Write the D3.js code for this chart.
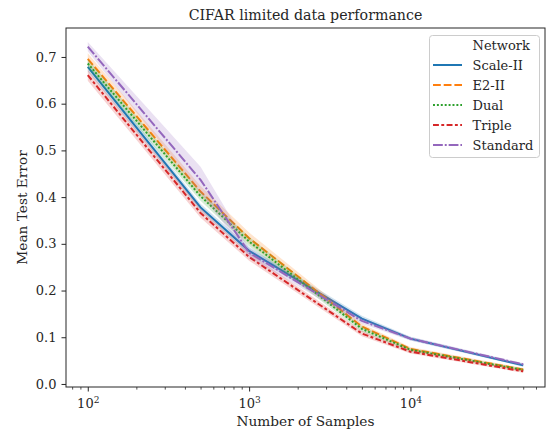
<!DOCTYPE html>
<html lang="en">
<head>
    <meta charset="UTF-8">
    <title>CIFAR limited data performance</title>
    <style>
        body { margin: 0; background: #fff; }
        text { font-family: "DejaVu Serif", serif; }
    </style>
</head>
<body>
<script src="https://d3js.org/d3.v7.min.js"></script>
<script>
    // sample sizes (x) and mean test error per network
    const samples = [100, 500, 1000, 5000, 10000, 50000];
    const networks = ["Scale-II", "E2-II", "Dual", "Triple", "Standard"];
    const scaleII  = [0.679, 0.378, 0.285, 0.140, 0.097, 0.040];
    const e2II     = [0.696, 0.412, 0.312, 0.123, 0.075, 0.031];
    const dual     = [0.686, 0.402, 0.305, 0.118, 0.073, 0.030];
    const triple   = [0.661, 0.366, 0.272, 0.108, 0.069, 0.027];
    const standard = [0.722, 0.437, 0.281, 0.135, 0.097, 0.042];
    // half width of the confidence band
    const ciScaleII  = [0.010, 0.008, 0.008, 0.006, 0.004, 0.003];
    const ciE2II     = [0.012, 0.012, 0.012, 0.006, 0.004, 0.003];
    const ciDual     = [0.010, 0.010, 0.010, 0.006, 0.004, 0.003];
    const ciTriple   = [0.012, 0.010, 0.008, 0.006, 0.004, 0.003];
    const ciStandard = [0.010, 0.028, 0.010, 0.006, 0.004, 0.003];
    const yTicks = [0.0, 0.1, 0.2, 0.3, 0.4, 0.5, 0.6, 0.7];
    const xTicks = [100, 1000, 10000];

    const series = [
        {name: networks[0], values: scaleII, ci: ciScaleII, color: "#1f77b4", dash: null},
        {name: networks[1], values: e2II, ci: ciE2II, color: "#ff7f0e", dash: "7.8,2.9"},
        {name: networks[2], values: dual, ci: ciDual, color: "#2ca02c", dash: "1.95,1.95"},
        {name: networks[3], values: triple, ci: ciTriple, color: "#d62728", dash: "5.9,2.4,2.9,2.4"},
        {name: networks[4], values: standard, ci: ciStandard, color: "#9467bd", dash: "9.8,1.95,1.95,1.95"}
    ];

    const width = 546, height = 432;
    const mLeft = 66, mTop = 28, mRight = 545, mBottom = 387;
    const fs = 13.0;      // tick and legend text
    const fsLabel = 13.7; // axis labels
    const lw = 2;

    const svg = d3.select("body").append("svg")
        .attr("width", width)
        .attr("height", height);

    const x = d3.scaleLog()
        .domain([Math.pow(10, 1.865), Math.pow(10, 4.834)])
        .range([mLeft, mRight]);
    const y = d3.scaleLinear()
        .domain([-0.0065, 0.762])
        .range([mBottom, mTop]);

    // bands and lines
    const plot = svg.append("g");
    series.forEach(s => {
        const pts = samples.map((n, i) => ({n: n, v: s.values[i], c: s.ci[i]}));
        plot.append("path")
            .datum(pts)
            .attr("fill", s.color)
            .attr("fill-opacity", 0.2)
            .attr("d", d3.area()
                .x(d => x(d.n))
                .y0(d => y(d.v - d.c))
                .y1(d => y(d.v + d.c)));
        plot.append("path")
            .datum(pts)
            .attr("fill", "none")
            .attr("stroke", s.color)
            .attr("stroke-width", lw)
            .attr("stroke-dasharray", s.dash)
            .attr("d", d3.line()
                .x(d => x(d.n))
                .y(d => y(d.v)));
    });

    // minor ticks on the log axis
    const minor = [];
    for (let k = 1; k <= 4; k++) {
        for (let m = 2; m <= 9; m++) {
            const v = m * Math.pow(10, k);
            if (v >= x.domain()[0] && v <= x.domain()[1]) minor.push(v);
        }
    }
    svg.append("g")
        .attr("transform", `translate(0,${mBottom})`)
        .call(d3.axisBottom(x).tickValues(minor).tickFormat("").tickSize(2.6))
        .call(g => g.select(".domain").remove())
        .call(g => g.selectAll("line").attr("stroke", "#262626").attr("stroke-width", 0.8));

    const xAxis = svg.append("g")
        .attr("transform", `translate(0,${mBottom})`)
        .call(d3.axisBottom(x).tickValues(xTicks).tickFormat("").tickSize(4.5))
        .call(g => g.select(".domain").remove())
        .call(g => g.selectAll("line").attr("stroke", "#262626").attr("stroke-width", 1));

    xAxis.selectAll(".tick").each(function (d) {
        const t = d3.select(this).append("text")
            .attr("y", 21)
            .attr("fill", "#262626")
            .attr("font-size", fs)
            .attr("text-anchor", "middle");
        t.append("tspan").text("10");
        t.append("tspan")
            .attr("dy", -5)
            .attr("font-size", fs * 0.7)
            .text(Math.round(Math.log10(d)));
    });

    svg.append("g")
        .attr("transform", `translate(${mLeft},0)`)
        .call(d3.axisLeft(y).tickValues(yTicks).tickFormat(d3.format(".1f")).tickSize(4.5).tickPadding(5))
        .call(g => g.select(".domain").remove())
        .call(g => g.selectAll("line").attr("stroke", "#262626").attr("stroke-width", 1))
        .call(g => g.selectAll("text")
            .attr("font-size", fs)
            .attr("fill", "#262626")
            .attr("font-family", "DejaVu Serif"));

    // frame
    svg.append("rect")
        .attr("x", mLeft)
        .attr("y", mTop)
        .attr("width", mRight - mLeft)
        .attr("height", mBottom - mTop)
        .attr("fill", "none")
        .attr("stroke", "#262626")
        .attr("stroke-width", 1);

    // title and labels
    svg.append("text")
        .attr("x", (mLeft + mRight) / 2)
        .attr("y", 20)
        .attr("text-anchor", "middle")
        .attr("font-size", 14.2)
        .attr("fill", "#262626")
        .text("CIFAR limited data performance");

    svg.append("text")
        .attr("x", (mLeft + mRight) / 2)
        .attr("y", 426)
        .attr("text-anchor", "middle")
        .attr("font-size", fsLabel)
        .attr("fill", "#262626")
        .text("Number of Samples");

    svg.append("text")
        .attr("transform", `translate(27,${(mTop + mBottom) / 2}) rotate(-90)`)
        .attr("text-anchor", "middle")
        .attr("font-size", fsLabel)
        .attr("fill", "#262626")
        .text("Mean Test Error");

    // legend
    const legend = svg.append("g");
    legend.append("rect")
        .attr("x", 429.5)
        .attr("y", 35.5)
        .attr("width", 110)
        .attr("height", 122)
        .attr("rx", 3)
        .attr("fill", "#fff")
        .attr("fill-opacity", 0.8)
        .attr("stroke", "#cccccc")
        .attr("stroke-width", 1);
    legend.append("text")
        .attr("x", 472.5)
        .attr("y", 50)
        .attr("font-size", fs)
        .attr("fill", "#262626")
        .text("Network");
    series.forEach((s, i) => {
        const ly = 65 + i * 20;
        legend.append("line")
            .attr("x1", 433)
            .attr("x2", 462)
            .attr("y1", ly)
            .attr("y2", ly)
            .attr("stroke", s.color)
            .attr("stroke-width", lw)
            .attr("stroke-dasharray", s.dash);
        legend.append("text")
            .attr("x", 472.5)
            .attr("y", ly + 4.5)
            .attr("font-size", fs)
            .attr("fill", "#262626")
            .text(s.name);
    });
</script>
</body>
</html>
